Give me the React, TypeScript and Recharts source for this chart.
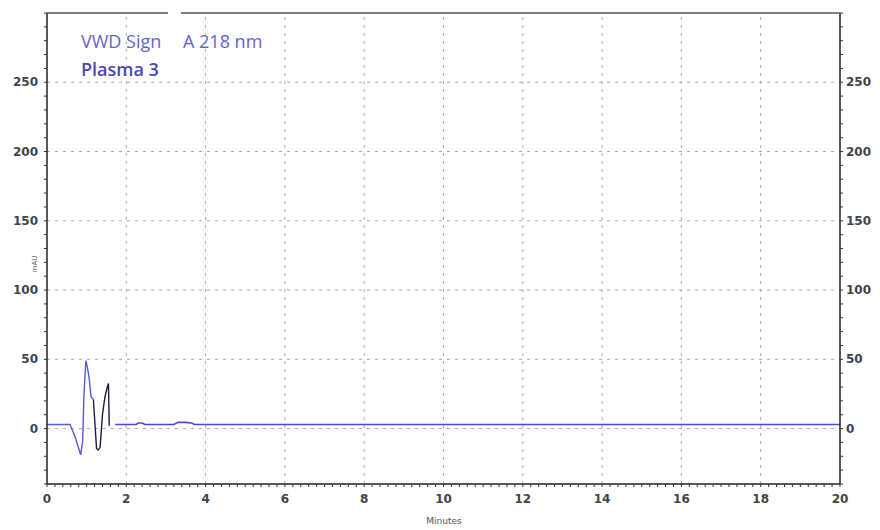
import { Line, LineChart, ReferenceLine, XAxis, YAxis } from 'recharts';

const xMajorTicks = [0, 2, 4, 6, 8, 10, 12, 14, 16, 18, 20];
const yMajorTicks = [0, 50, 100, 150, 200, 250];
const xMinorTicks = Array.from({ length: 101 }, (_, i) => Math.round(i * 2) / 10);
const yMinorTicks = Array.from({ length: 35 }, (_, i) => -40 + i * 10);

// injection peak, first part (blue trace)
const pulseTime = [0, 0.3, 0.58, 0.71, 0.79, 0.85, 0.9, 0.93, 0.98, 1.02, 1.07, 1.11, 1.15, 1.17];
const pulseMau = [3, 3, 3, -6, -13.5, -19, -9, 23, 49, 44, 35, 23, 21.5, 21];
// second part (dark trace)
const darkTime = [1.17, 1.25, 1.29, 1.34, 1.4, 1.46, 1.52, 1.55, 1.57];
const darkMau = [21, -14.5, -15.5, -13.5, 10.5, 22.5, 30, 32.5, 2];
// baseline after the peaks
const baseTime = [1.72, 2.25, 2.3, 2.4, 2.47, 3.2, 3.3, 3.5, 3.65, 3.72, 8, 14, 20];
const baseMau = [3, 3, 4, 4, 3, 3, 4.5, 4.5, 4, 3, 3, 3, 3];

const zip = (t: number[], v: number[]) => t.map((x, i) => ({ t: x, v: v[i] }));
const pulseData = zip(pulseTime, pulseMau);
const darkData = zip(darkTime, darkMau);
const baseData = zip(baseTime, baseMau);

const isMajor = (list: number[], v: number) => list.some((m) => Math.abs(m - v) < 1e-6);
const tickFont = { fontFamily: 'DejaVu Sans', fontSize: 12, fontWeight: 700, fill: '#444' };

const XTick = ({ x, y, payload }: any) => {
  if (!isMajor(xMajorTicks, payload.value)) return null;
  return (
    <text x={x} y={y} dy={14} textAnchor="middle" {...tickFont}>
      {Math.round(payload.value)}
    </text>
  );
};

const LeftTick = ({ x, y, payload }: any) => {
  if (!isMajor(yMajorTicks, payload.value)) return null;
  return (
    <text x={x} y={y} dx={-4} dy={4} textAnchor="end" {...tickFont}>
      {payload.value}
    </text>
  );
};

const RightTick = ({ x, y, payload }: any) => {
  if (!isMajor(yMajorTicks, payload.value)) return null;
  return (
    <text x={x} y={y} dx={1} dy={4} textAnchor="start" {...tickFont}>
      {payload.value}
    </text>
  );
};

const axisLine = { stroke: '#222', strokeWidth: 1.5 };
const tickLine = { stroke: '#333' };
const gridStyle = { stroke: '#aaa', strokeDasharray: '3 5' };

export default function App() {
  return (
    <div style={{ position: 'absolute', left: 0, top: 0, width: 880, height: 530, background: '#fff' }}>
      <LineChart width={880} height={530} margin={{ top: 13, right: 0, bottom: 0, left: 0 }}>
        <XAxis
          dataKey="t"
          type="number"
          domain={[0, 20]}
          allowDataOverflow
          ticks={xMinorTicks}
          interval={0}
          height={46}
          tickSize={3}
          axisLine={axisLine}
          tickLine={tickLine}
          tick={<XTick />}
        />
        <YAxis
          type="number"
          domain={[-40, 300]}
          allowDataOverflow
          ticks={yMinorTicks}
          interval={0}
          width={47}
          tickSize={3}
          axisLine={axisLine}
          tickLine={tickLine}
          tick={<LeftTick />}
        />
        <YAxis
          yAxisId="r"
          orientation="right"
          type="number"
          domain={[-40, 300]}
          allowDataOverflow
          ticks={yMinorTicks}
          interval={0}
          width={40}
          tickSize={3}
          axisLine={axisLine}
          tickLine={tickLine}
          tick={<RightTick />}
        />
        {xMajorTicks.slice(1, -1).map((v) => (
          <ReferenceLine key={`x${v}`} x={v} {...gridStyle} />
        ))}
        {yMajorTicks.map((v) => (
          <ReferenceLine key={`y${v}`} y={v} {...gridStyle} />
        ))}
        <Line data={baseData} dataKey="v" stroke="#4a4ad6" strokeWidth={1.6} dot={false} isAnimationActive={false} />
        <Line data={pulseData} dataKey="v" stroke="#5858d8" strokeWidth={1.4} dot={false} isAnimationActive={false} />
        <Line data={darkData} dataKey="v" stroke="#1c1c48" strokeWidth={1.4} dot={false} isAnimationActive={false} />
      </LineChart>
      <svg width={880} height={530} style={{ position: 'absolute', left: 0, top: 0, pointerEvents: 'none' }}>
        <line x1={47} y1={13} x2={840} y2={13} stroke="#555" strokeWidth={1.5} />
        <rect x={168} y={8} width={13} height={10} fill="#fff" />
        <g fontFamily="'Open Sans', 'Liberation Sans', sans-serif" fontSize={18}>
          <text x={81} y={48} fill="#6464cc">VWD Sign</text>
          <text x={183} y={48} fill="#6464cc">A 218 nm</text>
          <text x={81} y={76} fill="#4a48b8" fontWeight={600}>Plasma 3</text>
        </g>
        <text x={37} y={264} fontFamily="DejaVu Sans" fontSize={7} fill="#666" textAnchor="middle" transform="rotate(-90 37 264)">
          mAU
        </text>
        <text x={444} y={524} fontFamily="DejaVu Sans" fontSize={9} fill="#555" textAnchor="middle">
          Minutes
        </text>
      </svg>
    </div>
  );
}
